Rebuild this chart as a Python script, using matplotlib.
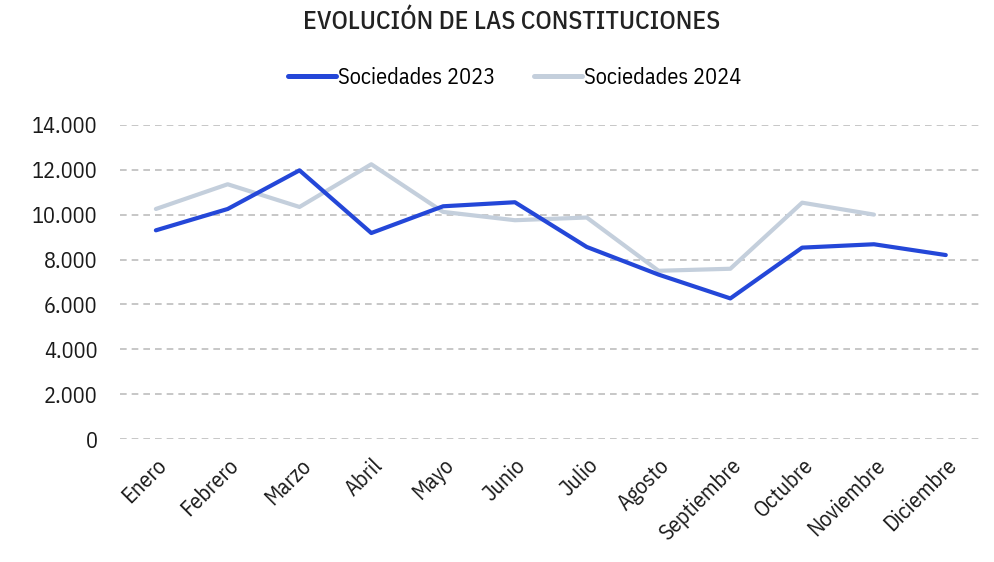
#!/usr/bin/env python3

import matplotlib.pyplot as plt
from matplotlib.ticker import FuncFormatter

plt.rcParams["font.family"] = ["IBM Plex Sans Condensed", "Liberation Sans Narrow", "DejaVu Sans"]

meses = ["Enero", "Febrero", "Marzo", "Abril", "Mayo", "Junio", "Julio",
         "Agosto", "Septiembre", "Octubre", "Noviembre", "Diciembre"]
soc_2023 = [9300, 10250, 11970, 9180, 10370, 10550, 8560, 7330, 6270, 8530, 8680, 8200]
soc_2024 = [10250, 11350, 10340, 12240, 10120, 9750, 9870, 7500, 7590, 10530, 10000]
yticks = [0, 2000, 4000, 6000, 8000, 10000, 12000, 14000]

fig = plt.figure(figsize=(9.94, 5.62), dpi=100)
ax = fig.add_axes([0.1207, 0.2183, 0.8669, 0.5598])

x = list(range(len(meses)))
ax.plot(x, soc_2023, color="#2447d8", lw=3.0, label="Sociedades 2023",
        solid_capstyle="round", zorder=3)
ax.plot(x[:len(soc_2024)], soc_2024, color="#c4cfdc", lw=3.0, label="Sociedades 2024",
        solid_capstyle="round", zorder=2)

ax.set_xlim(-0.5, len(meses) - 0.5)
ax.set_ylim(0, 14000)
ax.set_yticks(yticks)
ax.yaxis.set_major_formatter(FuncFormatter(lambda v, p: "{:,.0f}".format(v).replace(",", ".")))
ax.grid(axis="y", color="#bdbdbd", ls=(0, (4, 3)), lw=1.2)
ax.set_axisbelow(True)
for s in ax.spines.values():
    s.set_visible(False)

ax.set_xticks(x)
ax.set_xticklabels(meses, rotation=45, ha="right", rotation_mode="anchor")
ax.tick_params(axis="both", length=0, labelsize=16, colors="#1a1a1a")
ax.tick_params(axis="y", pad=16)
ax.tick_params(axis="x", pad=11)

fig.text(0.515, 0.962, "EVOLUCIÓN DE LAS CONSTITUCIONES", ha="center", va="center",
         fontsize=18.5, fontweight="medium", color="#222222")
leg = fig.legend(loc="center", bbox_to_anchor=(0.518, 0.861), ncol=2, frameon=False,
                 fontsize=16, handlelength=2.15, handletextpad=0.1, columnspacing=1.75)
for h in leg.get_lines():
    h.set_linewidth(3.6)

fig.savefig("out.png", dpi=100)
